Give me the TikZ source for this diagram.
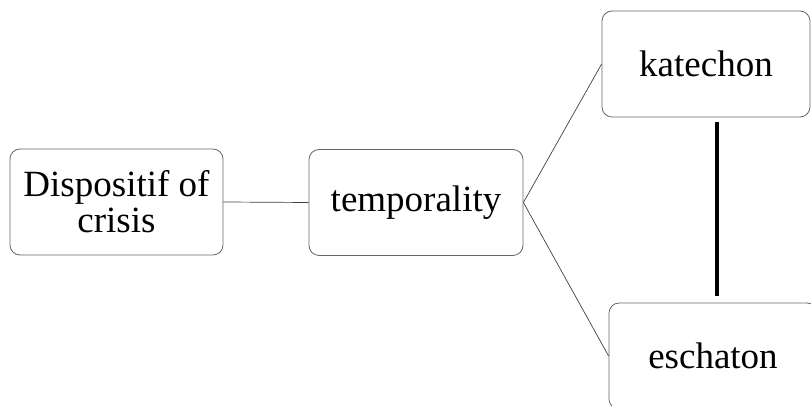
\documentclass[tikz,border=0pt]{standalone}
\usepackage{fontspec}
\setmainfont{Liberation Serif}
\usepackage{tikz}
\usetikzlibrary{positioning,calc}
\def\BoxWidth{210pt}
\def\BoxHeight{106pt}

\begin{document}
\begin{tikzpicture}[x=1pt,y=1pt,
	box/.style={draw=black!60,line width=0.8pt,rounded corners=10pt,
		minimum width=\BoxWidth,minimum height=\BoxHeight,align=center,
		inner sep=0pt,font=\fontsize{37}{36}\selectfont},
	link/.style={draw=black!75,line width=0.7pt}]
	\useasboundingbox (0,0) rectangle (811,406);
	\node[box,minimum width=213pt] (disp) at (116.5,204) {Dispositif of\\crisis};
	\node[box,minimum width=214pt] (temp) at (416,203.5) {temporality};
	\node[box,minimum width=208pt] (kat) at (706,342) {katechon};
	\node[box,minimum width=208pt] (esc) at (713,50) {eschaton};
	% 
	\coordinate (katlow) at ($(kat.south)+(11,-5)$);
	\coordinate (eschigh) at ($(esc.north)+(4,7)$);
	% 
	\draw[link] (disp.east) -- (temp.west);
	\draw[link] (temp.east) -- (kat.west);
	\draw[link] (temp.east) -- (esc.west);
	\draw[line width=4pt] (katlow) -- (katlow|-eschigh);
\end{tikzpicture}
\end{document}
